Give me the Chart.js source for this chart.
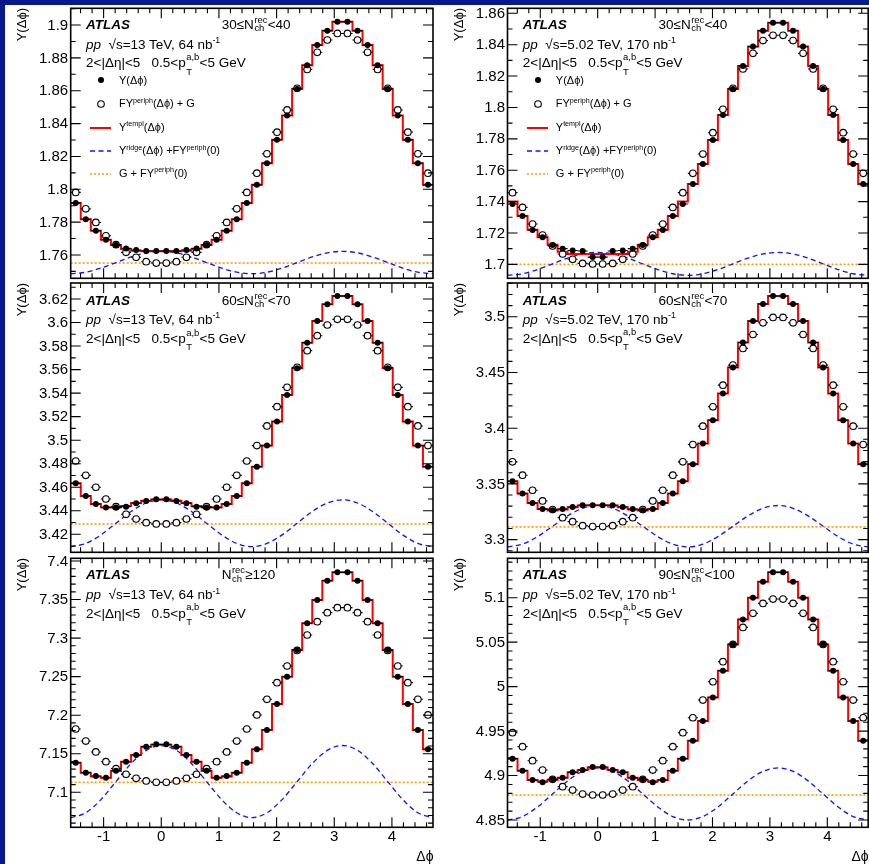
<!DOCTYPE html>
<html>
<head>
<meta charset="utf-8">
<script src="https://cdn.jsdelivr.net/npm/chart.js@4/dist/chart.umd.min.js"></script>
<style>
html,body{margin:0;padding:0;}
body{width:869px;height:864px;overflow:hidden;background:#06188c;position:relative;font-family:"Liberation Sans",Arial,Helvetica,sans-serif;color:#000;}
#page{position:absolute;left:5px;top:5px;width:864px;height:859px;background:#fff;z-index:0;}
canvas{position:absolute;z-index:1;}
.t{position:absolute;white-space:nowrap;line-height:1;transform:translateY(-50%);z-index:2;}
.ann{font-size:13.5px;}
.atlas{font-size:13.5px;font-weight:bold;font-style:italic;}
.leg{font-size:11px;}
.sup{font-size:0.65em;position:relative;top:-0.62em;}
.stk{display:inline-block;position:relative;width:1.02em;height:0.8em;}
.stk span{position:absolute;left:0.5px;font-size:0.7em;line-height:1;}
.stk.n .up{top:-3.2px;} .stk.n .dn{top:5.2px;}
.stk.p .up{top:-4.9px;} .stk.p .dn{top:10.1px;}
.ytitle{position:absolute;white-space:nowrap;line-height:1;font-size:13px;width:60px;text-align:right;transform-origin:0 0;transform:rotate(-90deg);z-index:2;}
.xtitle{position:absolute;white-space:nowrap;line-height:1;font-size:14px;width:40px;text-align:right;transform:translateY(-50%);z-index:2;}
svg.ls{position:absolute;z-index:2;overflow:visible;}
</style>
</head>
<body>
<div id="page"></div>
<script>
// ---------------- data ----------------
const binCentersDeg = [-85,-75,-65,-55,-45,-35,-25,-15,-5,5,15,25,35,45,55,65,75,85,95,105,115,125,135,145,155,165,175,185,195,205,215,225,235,245,255,265];
const binHalfWidthDeg = 5;
const ridgeGridDeg = [-90,-75,-60,-45,-30,-15,0,15,30,45,60,75,90,105,120,135,150,165,180,195,210,225,240,255,270];
const xRangeDeg = [-90, 270];
const xTicks = [-1, 0, 1, 2, 3, 4];

// top-left: 13 TeV, 30<=N<40
const yTicksTL = [1.76,1.78,1.8,1.82,1.84,1.86,1.88,1.9];
const yTL = [1.7916,1.7817,1.7748,1.7693,1.7661,1.7640,1.7630,1.7624,1.7624,1.7624,1.7624,1.7630,1.7640,1.7661,1.7693,1.7748,1.7817,1.7916,1.8027,1.8159,1.8301,1.8449,1.8611,1.8755,1.8878,1.8966,1.9020,1.9020,1.8966,1.8878,1.8755,1.8611,1.8449,1.8301,1.8159,1.8027];
const fTL = [1.7981,1.7881,1.7798,1.7717,1.7663,1.7616,1.7586,1.7559,1.7551,1.7551,1.7559,1.7586,1.7616,1.7663,1.7717,1.7798,1.7881,1.7981,1.8098,1.8216,1.8348,1.8483,1.8615,1.8730,1.8834,1.8909,1.8949,1.8949,1.8909,1.8834,1.8730,1.8615,1.8483,1.8348,1.8216,1.8098];
const tTL = [1.7916,1.7817,1.7748,1.7693,1.7661,1.7636,1.7626,1.7622,1.7622,1.7622,1.7622,1.7626,1.7636,1.7661,1.7693,1.7748,1.7817,1.7916,1.8027,1.8159,1.8301,1.8449,1.8611,1.8755,1.8878,1.8966,1.9020,1.9020,1.8966,1.8878,1.8755,1.8611,1.8449,1.8301,1.8159,1.8027];
const rTL = [1.7486,1.7495,1.7520,1.7554,1.7588,1.7613,1.7622,1.7613,1.7588,1.7554,1.7520,1.7495,1.7486,1.7495,1.7520,1.7554,1.7588,1.7613,1.7622,1.7613,1.7588,1.7554,1.7520,1.7495,1.7486];
const gTL = 1.7551;

// top-right: 5.02 TeV, 30<=N<40
const yTicksTR = [1.7,1.72,1.74,1.76,1.78,1.8,1.82,1.84,1.86];
const yTR = [1.7385,1.7308,1.7219,1.7172,1.7123,1.7100,1.7088,1.7085,1.7046,1.7046,1.7085,1.7088,1.7100,1.7123,1.7172,1.7219,1.7308,1.7385,1.7512,1.7640,1.7793,1.7952,1.8118,1.8264,1.8388,1.8489,1.8540,1.8540,1.8489,1.8388,1.8264,1.8118,1.7952,1.7793,1.7640,1.7512];
const fTR = [1.7457,1.7363,1.7257,1.7187,1.7117,1.7066,1.7032,1.7006,1.7002,1.7002,1.7006,1.7032,1.7066,1.7117,1.7187,1.7257,1.7363,1.7457,1.7580,1.7703,1.7839,1.7988,1.8122,1.8245,1.8345,1.8426,1.8460,1.8460,1.8426,1.8345,1.8245,1.8122,1.7988,1.7839,1.7703,1.7580];
const tTR = [1.7400,1.7308,1.7220,1.7172,1.7125,1.7080,1.7066,1.7066,1.7066,1.7066,1.7066,1.7066,1.7080,1.7125,1.7172,1.7220,1.7308,1.7400,1.7512,1.7640,1.7793,1.7952,1.8118,1.8264,1.8388,1.8489,1.8540,1.8540,1.8489,1.8388,1.8264,1.8118,1.7952,1.7793,1.7640,1.7512];
const rTR = [1.6930,1.6940,1.6967,1.7003,1.7040,1.7066,1.7076,1.7066,1.7040,1.7003,1.6967,1.6940,1.6930,1.6940,1.6967,1.7003,1.7040,1.7066,1.7076,1.7066,1.7040,1.7003,1.6967,1.6940,1.6930];
const gTR = 1.7000;

// middle-left: 13 TeV, 60<=N<70
const yTicksML = [3.42,3.44,3.46,3.48,3.5,3.52,3.54,3.56,3.58,3.6,3.62];
const yML = [3.4633,3.4526,3.4458,3.4427,3.4427,3.4435,3.4463,3.4483,3.4497,3.4497,3.4483,3.4463,3.4435,3.4427,3.4427,3.4458,3.4526,3.4633,3.4775,3.4954,3.5158,3.5384,3.5611,3.5829,3.6013,3.6155,3.6225,3.6225,3.6155,3.6013,3.5829,3.5611,3.5384,3.5158,3.4954,3.4775];
const fML = [3.4823,3.4701,3.4600,3.4500,3.4435,3.4370,3.4330,3.4299,3.4288,3.4288,3.4299,3.4330,3.4370,3.4435,3.4500,3.4600,3.4701,3.4823,3.4954,3.5121,3.5285,3.5449,3.5619,3.5761,3.5888,3.5979,3.6027,3.6027,3.5979,3.5888,3.5761,3.5619,3.5449,3.5285,3.5121,3.4954];
const tML = [3.4633,3.4526,3.4458,3.4430,3.4430,3.4440,3.4465,3.4485,3.4495,3.4495,3.4485,3.4465,3.4440,3.4430,3.4430,3.4458,3.4526,3.4633,3.4775,3.4954,3.5158,3.5384,3.5611,3.5829,3.6013,3.6155,3.6225,3.6225,3.6155,3.6013,3.5829,3.5611,3.5384,3.5158,3.4954,3.4775];
const rML = [3.4095,3.4122,3.4195,3.4294,3.4394,3.4466,3.4493,3.4466,3.4394,3.4294,3.4195,3.4122,3.4095,3.4122,3.4195,3.4294,3.4394,3.4466,3.4493,3.4466,3.4394,3.4294,3.4195,3.4122,3.4095];
const gML = 3.4288;

// middle-right: 5.02 TeV, 60<=N<70
const yTicksMR = [3.3,3.35,3.4,3.45,3.5];
const yMR = [3.3524,3.3413,3.3329,3.3275,3.3263,3.3275,3.3293,3.3308,3.3308,3.3308,3.3308,3.3293,3.3275,3.3263,3.3275,3.3329,3.3413,3.3524,3.3677,3.3862,3.4072,3.4311,3.4545,3.4769,3.4961,3.5114,3.5186,3.5186,3.5114,3.4961,3.4769,3.4545,3.4311,3.4072,3.3862,3.3677];
const fMR = [3.3698,3.3578,3.3443,3.3347,3.3270,3.3197,3.3161,3.3125,3.3117,3.3117,3.3125,3.3161,3.3197,3.3270,3.3347,3.3443,3.3578,3.3698,3.3853,3.4018,3.4192,3.4386,3.4566,3.4716,3.4841,3.4946,3.4994,3.4994,3.4946,3.4841,3.4716,3.4566,3.4386,3.4192,3.4018,3.3853];
const tMR = [3.3524,3.3413,3.3329,3.3275,3.3262,3.3270,3.3290,3.3305,3.3308,3.3308,3.3305,3.3290,3.3270,3.3262,3.3275,3.3329,3.3413,3.3524,3.3677,3.3862,3.4072,3.4311,3.4545,3.4769,3.4961,3.5114,3.5186,3.5186,3.5114,3.4961,3.4769,3.4545,3.4311,3.4072,3.3862,3.3677];
const rMR = [3.2934,3.2959,3.3027,3.3120,3.3213,3.3281,3.3306,3.3281,3.3213,3.3120,3.3027,3.2959,3.2934,3.2959,3.3027,3.3120,3.3213,3.3281,3.3306,3.3281,3.3213,3.3120,3.3027,3.2959,3.2934];
const gMR = 3.3114;

// bottom-left: 13 TeV, N>=120
const yTicksBL = [7.1,7.15,7.2,7.25,7.3,7.35,7.4];
const yBL = [7.1384,7.1255,7.1211,7.1190,7.1281,7.1397,7.1484,7.1592,7.1622,7.1622,7.1592,7.1484,7.1397,7.1281,7.1190,7.1211,7.1255,7.1384,7.1557,7.1808,7.2145,7.2500,7.2846,7.3192,7.3494,7.3745,7.3853,7.3853,7.3745,7.3494,7.3192,7.2846,7.2500,7.2145,7.1808,7.1557];
const fBL = [7.1821,7.1665,7.1523,7.1397,7.1307,7.1233,7.1181,7.1147,7.1129,7.1129,7.1147,7.1181,7.1233,7.1307,7.1397,7.1523,7.1665,7.1821,7.2003,7.2206,7.2422,7.2638,7.2840,7.3040,7.3213,7.3330,7.3395,7.3395,7.3330,7.3213,7.3040,7.2840,7.2638,7.2422,7.2206,7.2003];
const tBL = [7.1384,7.1255,7.1205,7.1190,7.1275,7.1397,7.1484,7.1590,7.1618,7.1618,7.1590,7.1484,7.1397,7.1275,7.1190,7.1205,7.1255,7.1384,7.1557,7.1808,7.2145,7.2500,7.2846,7.3192,7.3494,7.3745,7.3853,7.3853,7.3745,7.3494,7.3192,7.2846,7.2500,7.2145,7.1808,7.1557];
const rBL = [7.0671,7.0734,7.0905,7.1139,7.1373,7.1544,7.1607,7.1544,7.1373,7.1139,7.0905,7.0734,7.0671,7.0734,7.0905,7.1139,7.1373,7.1544,7.1607,7.1544,7.1373,7.1139,7.0905,7.0734,7.0671];
const gBL = 7.1129;

// bottom-right: 5.02 TeV, 90<=N<100
const yTicksBR = [4.85,4.9,4.95,5,5.05,5.1];
const yBR = [4.9190,4.9055,4.8950,4.8924,4.8957,4.8976,4.9036,4.9062,4.9096,4.9096,4.9062,4.9036,4.8976,4.8957,4.8924,4.8950,4.9055,4.9190,4.9392,4.9613,4.9879,5.0179,5.0475,5.0756,5.1000,5.1180,5.1285,5.1285,5.1180,5.1000,5.0756,5.0475,5.0179,4.9879,4.9613,4.9392];
const fBR = [4.9482,4.9325,4.9167,4.9062,4.8957,4.8875,4.8837,4.8792,4.8781,4.8781,4.8792,4.8837,4.8875,4.8957,4.9062,4.9167,4.9325,4.9482,4.9650,4.9849,5.0055,5.0280,5.0475,5.0666,5.0824,5.0936,5.0985,5.0985,5.0936,5.0824,5.0666,5.0475,5.0280,5.0055,4.9849,4.9650];
const tBR = [4.9190,4.9055,4.8950,4.8935,4.8950,4.8976,4.9036,4.9062,4.9090,4.9090,4.9062,4.9036,4.8976,4.8950,4.8935,4.8950,4.9055,4.9190,4.9392,4.9613,4.9879,5.0179,5.0475,5.0756,5.1000,5.1180,5.1285,5.1285,5.1180,5.1000,5.0756,5.0475,5.0179,4.9879,4.9613,4.9392];
const rBR = [4.8500,4.8539,4.8647,4.8793,4.8940,4.9047,4.9086,4.9047,4.8940,4.8793,4.8647,4.8539,4.8500,4.8539,4.8647,4.8793,4.8940,4.9047,4.9086,4.9047,4.8940,4.8793,4.8647,4.8539,4.8500];
const gBR = 4.8781;

// ---------------- panel texts ----------------
const NS = '<span class="stk n"><span class="up">rec</span><span class="dn">ch</span></span>';
const nLabelTL = '30≤N' + NS + '&lt;40';
const nLabelTR = '30≤N' + NS + '&lt;40';
const nLabelML = '60≤N' + NS + '&lt;70';
const nLabelMR = '60≤N' + NS + '&lt;70';
const nLabelBL = 'N' + NS + '≥120';
const nLabelBR = '90≤N' + NS + '&lt;100';
const energy13 = '<i>pp</i>&nbsp;&nbsp;√s=13 TeV, 64 nb<span class="sup">-1</span>';
const energy5 = '<i>pp</i>&nbsp;&nbsp;√s=5.02 TeV, 170 nb<span class="sup">-1</span>';
const cutsLine = '2&lt;|Δη|&lt;5&nbsp;&nbsp;&nbsp;0.5&lt;p<span class="stk p"><span class="up">a,b</span><span class="dn">T</span></span>&lt;5 GeV';
const legendLabels = [
  'Y(Δϕ)',
  'FY<span class="sup">periph</span>(Δϕ) + G',
  'Y<span class="sup">templ</span>(Δϕ)',
  'Y<span class="sup">ridge</span>(Δϕ) +FY<span class="sup">periph</span>(0)',
  'G + FY<span class="sup">periph</span>(0)'
];

// ---------------- layout (positions only) ----------------
const panels = [
  {frame:[70.7, 8.3, 433.0, 278.3], yRange:[1.7458, 1.9102], yTicks:yTicksTL, Y:yTL, F:fTL, T:tTL, R:rTL, G:gTL, xLabels:false, legend:true, n:nLabelTL, e:energy13, textY:[25, 44.5, 63.3]},
  {frame:[507.5, 8.3, 868.2, 278.3], yRange:[1.6911, 1.8632], yTicks:yTicksTR, Y:yTR, F:fTR, T:tTR, R:rTR, G:gTR, xLabels:false, legend:true, n:nLabelTR, e:energy5, textY:[25, 44.5, 63.3]},
  {frame:[70.7, 283.0, 433.0, 552.3], yRange:[3.4047, 3.6336], yTicks:yTicksML, Y:yML, F:fML, T:tML, R:rML, G:gML, xLabels:false, legend:false, n:nLabelML, e:energy13, textY:[300.6, 319.8, 339.2]},
  {frame:[507.5, 283.0, 868.2, 552.3], yRange:[3.2886, 3.5303], yTicks:yTicksMR, Y:yMR, F:fMR, T:tMR, R:rMR, G:gMR, xLabels:false, legend:false, n:nLabelMR, e:energy5, textY:[300.6, 319.5, 338.8]},
  {frame:[70.7, 558.3, 433.0, 827.3], yRange:[7.0546, 7.4035], yTicks:yTicksBL, Y:yBL, F:fBL, T:tBL, R:rBL, G:gBL, xLabels:true, legend:false, n:nLabelBL, e:energy13, textY:[575.2, 595, 613.6]},
  {frame:[507.5, 558.3, 868.2, 827.3], yRange:[4.8418, 5.1443], yTicks:yTicksBR, Y:yBR, F:fBR, T:tBR, R:rBR, G:gBR, xLabels:true, legend:false, n:nLabelBR, e:energy5, textY:[575.2, 595, 613.6]}
];

const DEG = Math.PI / 180;
const fmt = v => String(parseFloat(Number(v).toFixed(4)));

const xErrBars = {
  id: 'xErrBars',
  beforeDatasetDraw(chart, args) {
    const ds = chart.data.datasets[args.index];
    if (!ds.xErr) return;
    const {ctx, chartArea: a} = chart;
    const xs = chart.scales.x, ys = chart.scales.y;
    ctx.save();
    ctx.beginPath(); ctx.rect(a.left, a.top, a.right - a.left, a.bottom - a.top); ctx.clip();
    ctx.strokeStyle = '#000'; ctx.lineWidth = 1.1;
    ctx.beginPath();
    ds.data.forEach(p => {
      const py = ys.getPixelForValue(p.y);
      ctx.moveTo(xs.getPixelForValue(p.x - ds.xErr), py);
      ctx.lineTo(xs.getPixelForValue(p.x + ds.xErr), py);
    });
    ctx.stroke();
    ctx.restore();
  }
};

function minorValues(min, max, step, majors) {
  const out = [];
  const k0 = Math.ceil(min / step - 1e-6), k1 = Math.floor(max / step + 1e-6);
  for (let k = k0; k <= k1; k++) {
    const v = k * step;
    if (!majors.some(m => Math.abs(m - v) < step * 0.01)) out.push(v);
  }
  return out;
}

function makeAxesPlugin(p) {
  return {
    id: 'atlasAxes',
    afterDraw(chart) {
      const {ctx, chartArea: a} = chart;
      const xs = chart.scales.x, ys = chart.scales.y;
      const xMaj = xs.ticks.map(t => t.value), yMaj = ys.ticks.map(t => t.value);
      const xMin = minorValues(xs.min, xs.max, 0.2, xMaj);
      const yMin = minorValues(ys.min, ys.max, 0.01, yMaj);
      ctx.save();
      ctx.strokeStyle = '#000';
      ctx.lineWidth = 1.1;
      ctx.beginPath();
      const xt = (v, len) => { const px = xs.getPixelForValue(v); ctx.moveTo(px, a.bottom); ctx.lineTo(px, a.bottom - len); ctx.moveTo(px, a.top); ctx.lineTo(px, a.top + len); };
      const yt = (v, len) => { const py = ys.getPixelForValue(v); ctx.moveTo(a.left, py); ctx.lineTo(a.left + len, py); ctx.moveTo(a.right, py); ctx.lineTo(a.right - len, py); };
      xMaj.forEach(v => xt(v, 10)); xMin.forEach(v => xt(v, 5));
      yMaj.forEach(v => yt(v, 10)); yMin.forEach(v => yt(v, 5));
      ctx.stroke();
      ctx.lineWidth = 1.6;
      ctx.strokeRect(a.left, a.top, a.right - a.left, a.bottom - a.top);
      ctx.fillStyle = '#000';
      ctx.font = '15px "Liberation Sans", Arial, sans-serif';
      ctx.textAlign = 'right'; ctx.textBaseline = 'middle';
      ys.ticks.forEach(t => ctx.fillText(t.label, a.left - 2.5, ys.getPixelForValue(t.value) + 0.5));
      if (p.xLabels) {
        ctx.textAlign = 'center'; ctx.textBaseline = 'top';
        xs.ticks.forEach(t => ctx.fillText(t.label, xs.getPixelForValue(t.value), a.bottom + 2));
      }
      ctx.restore();
    }
  };
}

function addDiv(cls, html, x, y) {
  const d = document.createElement('div');
  d.className = cls; d.innerHTML = html;
  d.style.left = x + 'px'; d.style.top = y + 'px';
  document.body.appendChild(d);
  return d;
}

function addSample(kind, x, y) {
  const ns = 'http://www.w3.org/2000/svg';
  const s = document.createElementNS(ns, 'svg');
  s.setAttribute('class', 'ls'); s.setAttribute('width', '22'); s.setAttribute('height', '10');
  s.style.left = x + 'px'; s.style.top = (y - 5) + 'px';
  let el;
  if (kind === 'filled' || kind === 'open') {
    el = document.createElementNS(ns, 'circle');
    el.setAttribute('cx', '11'); el.setAttribute('cy', '5');
    if (kind === 'filled') { el.setAttribute('r', '3'); el.setAttribute('fill', '#000'); }
    else { el.setAttribute('r', '3.3'); el.setAttribute('fill', '#fff'); el.setAttribute('stroke', '#000'); el.setAttribute('stroke-width', '1.1'); }
  } else {
    el = document.createElementNS(ns, 'line');
    el.setAttribute('x1', '0'); el.setAttribute('x2', '21'); el.setAttribute('y1', '5'); el.setAttribute('y2', '5');
    if (kind === 'red') { el.setAttribute('stroke', '#ff0000'); el.setAttribute('stroke-width', '2'); }
    if (kind === 'blue') { el.setAttribute('stroke', '#0a14ff'); el.setAttribute('stroke-width', '1.3'); el.setAttribute('stroke-dasharray', '5 3.5'); }
    if (kind === 'orange') { el.setAttribute('stroke', '#ff9900'); el.setAttribute('stroke-width', '1.6'); el.setAttribute('stroke-dasharray', '2 2'); }
  }
  s.appendChild(el);
  document.body.appendChild(s);
}

panels.forEach(p => {
  const [fl, ft, fr, fb] = p.frame;
  const cl = Math.floor(fl) - 62, ct = Math.max(0, Math.floor(ft) - 8);
  const cr = Math.ceil(fr) + 8, cb = Math.ceil(fb) + 30;
  const cv = document.createElement('canvas');
  cv.width = cr - cl; cv.height = cb - ct;
  cv.style.left = cl + 'px'; cv.style.top = ct + 'px';
  cv.style.width = (cr - cl) + 'px'; cv.style.height = (cb - ct) + 'px';
  document.body.appendChild(cv);
  const pad = {left: fl - cl, top: ft - ct, right: cr - fr, bottom: cb - fb};

  const edgesDeg = binCentersDeg.map(d => d - binHalfWidthDeg).concat([binCentersDeg[binCentersDeg.length - 1] + binHalfWidthDeg]);
  const stepPts = edgesDeg.map((d, i) => ({x: d * DEG, y: p.T[Math.min(i, p.T.length - 1)]}));
  const ptsY = p.Y.map((v, i) => ({x: binCentersDeg[i] * DEG, y: v}));
  const ptsF = p.F.map((v, i) => ({x: binCentersDeg[i] * DEG, y: v}));
  const ptsR = p.R.map((v, i) => ({x: ridgeGridDeg[i] * DEG, y: v}));
  const ptsG = xRangeDeg.map(d => ({x: d * DEG, y: p.G}));

  new Chart(cv, {
    type: 'line',
    data: {
      datasets: [
        {label: 'Y(Δϕ)', data: ptsY, showLine: false, pointStyle: 'circle', pointRadius: 3, pointBackgroundColor: '#000', pointBorderColor: '#000', pointBorderWidth: 0, order: 0, xErr: binHalfWidthDeg * DEG},
        {label: 'FY periph(Δϕ) + G', data: ptsF, showLine: false, pointStyle: 'circle', pointRadius: 3.3, pointBackgroundColor: '#fff', pointBorderColor: '#000', pointBorderWidth: 1.1, order: 1, xErr: binHalfWidthDeg * DEG},
        {label: 'Y templ(Δϕ)', data: stepPts, stepped: 'before', borderColor: '#ff0000', borderWidth: 2, pointRadius: 0, fill: false, order: 2},
        {label: 'Y ridge(Δϕ) + FY periph(0)', data: ptsR, borderColor: '#0a14ff', borderWidth: 1.3, borderDash: [5, 3.5], pointRadius: 0, cubicInterpolationMode: 'monotone', fill: false, order: 3},
        {label: 'G + FY periph(0)', data: ptsG, borderColor: '#ff9900', borderWidth: 1.6, borderDash: [2, 2], pointRadius: 0, fill: false, order: 4}
      ]
    },
    options: {
      responsive: false, animation: false, devicePixelRatio: 1, events: [],
      layout: {padding: pad},
      plugins: {legend: {display: false}, tooltip: {enabled: false}, title: {display: false}},
      scales: {
        x: {type: 'linear', display: false, min: xRangeDeg[0] * DEG, max: xRangeDeg[1] * DEG,
            afterBuildTicks: s => { s.ticks = xTicks.map(v => ({value: v})); },
            ticks: {callback: v => fmt(v)}},
        y: {type: 'linear', display: false, min: p.yRange[0], max: p.yRange[1],
            afterBuildTicks: s => { s.ticks = p.yTicks.map(v => ({value: v})); },
            ticks: {callback: v => fmt(v)}}
      }
    },
    plugins: [xErrBars, makeAxesPlugin(p)]
  });

  // annotations
  addDiv('t atlas', 'ATLAS', fl + 15.3, p.textY[0]);
  addDiv('t ann', p.n, fl + 151, p.textY[0]);
  addDiv('t ann', p.e, fl + 15.3, p.textY[1]);
  addDiv('t ann', p.cutsLine || cutsLine, fl + 15.3, p.textY[2]);

  // legend
  if (p.legend) {
    const ys = [80.3, 104, 127.7, 151, 173.7];
    const kinds = ['filled', 'open', 'red', 'blue', 'orange'];
    ys.forEach((yy, i) => {
      addSample(kinds[i], fl + 19, yy);
      addDiv('t leg', legendLabels[i], fl + 48.3, yy);
    });
  }

  // axis titles
  const yt = addDiv('ytitle', 'Y(Δϕ)', fl - 56 + (fl > 300 ? 0.3 : 0.7), ft + 60);
  yt.style.left = (fl - 55.5) + 'px';
  if (p.xLabels) addDiv('xtitle', 'Δϕ', fr - 40 + 0.5, 856);
});
</script>
</body>
</html>
